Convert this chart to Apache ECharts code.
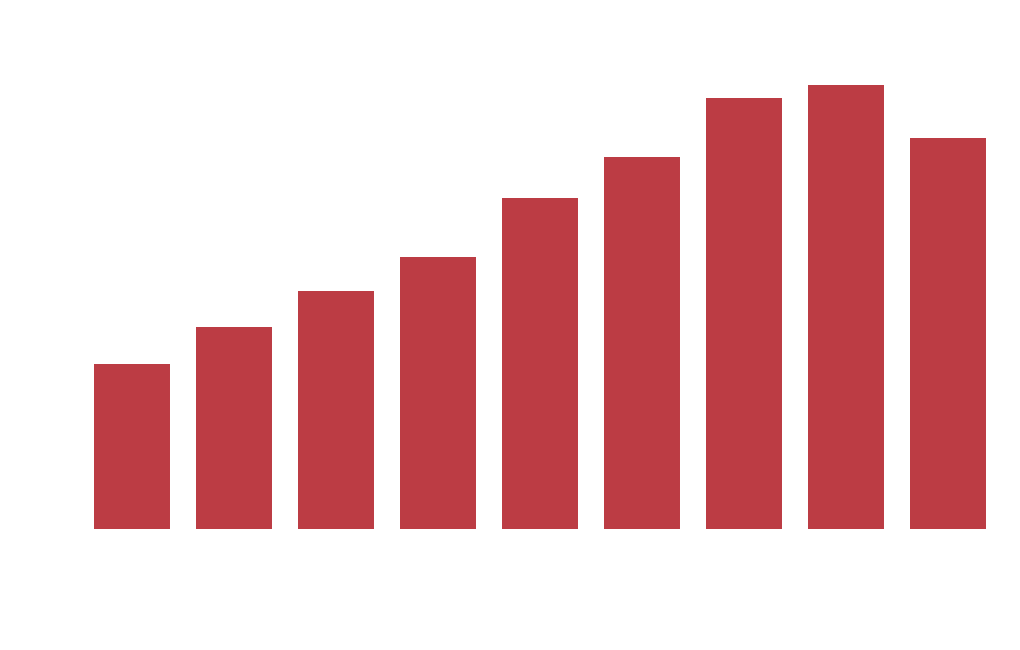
<!DOCTYPE html>
<html lang="en">
<head>
  <meta charset="utf-8">
  <title>Bar chart</title>
  <style>
    html, body { margin: 0; padding: 0; background: #ffffff; }
  </style>
</head>
<body>
  <div id="myCharts" style="width: 1020px;height:650px;"></div>
  <script src="https://cdn.jsdelivr.net/npm/echarts@6/dist/echarts.min.js"></script>
  <script type="text/javascript">
    // categories (no labels shown in the picture)
    var categories = ['1', '2', '3', '4', '5', '6', '7', '8', '9'];
    // bar values
    var seriesData = [165, 202, 238, 272, 331, 372, 431, 444, 391];

    var myChart = echarts.init(document.getElementById('myCharts'));
    var chartOption = {
      animation: false,
      grid: { left: 81, right: 21, top: 29, bottom: 121 },
      xAxis: {
        type: 'category',
        data: categories,
        show: false
      },
      yAxis: {
        type: 'value',
        min: 0,
        max: 500,
        show: false
      },
      series: [
        {
          type: 'bar',
          barCategoryGap: '25.5%',
          itemStyle: { color: '#bc3c44' },
          data: seriesData
        }
      ]
    };
    myChart.setOption(chartOption);
  </script>
</body>
</html>
